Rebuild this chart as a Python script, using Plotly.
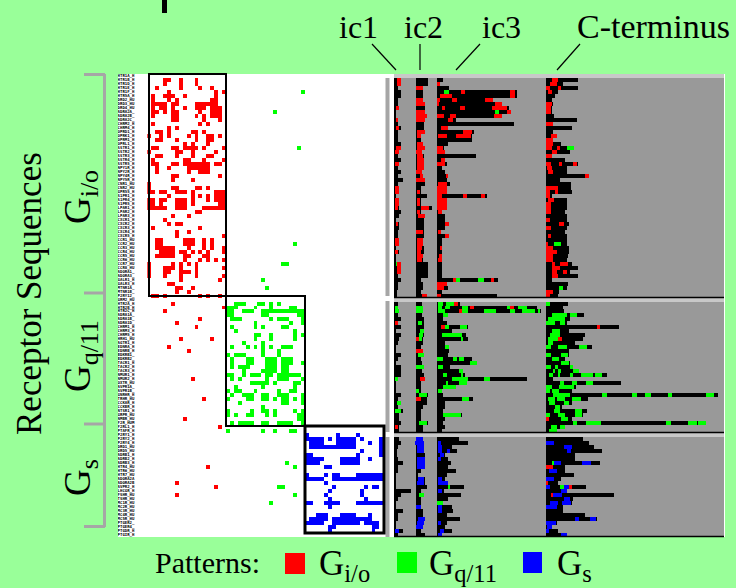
import plotly.graph_objects as go

W, H = 736, 588
N_ROWS = 116

# ---------- left panel: pattern hits, row -> list of (first column, last column)
GIO_ROWS = [
 [], [(4,5),(8,8),(12,12)], [(4,4),(8,8),(12,12)], [(2,2),(8,8),(13,13),(16,16)], [(5,5),(17,17),(19,19)],
 [(1,1),(4,6),(9,9),(17,17)], [(1,1),(5,5),(7,7),(16,17)], [(1,4),(6,7),(12,17)],
 [(1,1),(3,4),(6,6),(9,9),(12,14),(16,18)], [(1,2),(4,4),(6,7),(13,13),(16,18)],
 [(1,1),(6,7),(12,12),(14,14),(16,18)], [(6,7),(14,14),(18,18)], [(1,1),(13,13),(15,15)], [(5,5),(7,7)],
 [(2,3),(5,5),(11,12),(14,14)], [(0,0),(3,3),(5,5),(10,10),(12,12),(15,16),(18,18)],
 [(2,3),(7,7),(12,12),(15,16)], [(9,9),(11,11),(15,15)], [(1,2),(6,7),(9,12),(14,14),(19,19)],
 [(0,0),(7,8),(11,11),(17,17)], [(2,3),(7,7),(11,11),(15,16)], [(1,1),(9,10),(14,14),(19,19)],
 [(1,2),(6,7),(9,15),(17,18)], [(2,2),(5,5),(10,15)], [(2,2),(10,10),(13,15)], [(6,7),(18,18)],
 [(6,6),(11,11)], [(0,0)], [(0,0),(6,7),(12,13),(15,15)], [(0,1),(3,4),(7,9),(11,11),(17,19)],
 [(5,5),(11,11),(13,13),(15,15),(17,19)], [(0,1),(3,4),(7,9),(11,11),(15,15),(17,19)],
 [(0,1),(3,3),(7,9),(11,11),(18,19)], [(0,4),(7,9),(14,19)], [(12,13)], [(6,6),(10,10)], [(4,4)],
 [(5,5),(7,8)], [(1,1),(13,13)], [(7,7),(10,10)], [(7,7),(19,19)], [(2,3),(9,11),(14,14),(16,16)],
 [(2,3),(9,11),(14,14),(16,16)], [(2,6),(10,10),(14,14),(16,16),(19,19)],
 [(3,6),(8,9),(11,11),(13,13),(15,15),(19,19)], [(2,6),(9,10),(14,15)],
 [(9,9),(13,13),(15,15),(17,17),(19,19)], [(0,0),(6,6),(8,8),(10,10),(12,12)],
 [(0,0),(4,6),(8,8),(12,12),(19,19)], [(0,0),(4,5),(8,10),(12,12)], [(0,0),(4,4),(8,8),(12,12),(19,19)],
 [(8,8),(18,18)], [(5,6)], [(7,8),(11,11)], [(7,7),(10,10)], [(1,2),(4,4),(13,13),(15,15),(18,18)],
]
GQ_ROWS = [
 [], [(22,24),(28,29),(31,31),(33,33)], [(20,22),(27,27),(31,31),(36,37)], [(20,21),(24,26),(29,39)],
 [(20,21),(29,30),(38,39)], [(21,23),(31,31),(33,35),(39,39)], [(27,27),(36,36),(39,39)],
 [(21,21),(27,27),(29,29),(34,35)], [(22,22),(37,37)], [(27,28),(31,31),(37,37),(39,39)],
 [(27,27),(31,31),(37,37)], [(24,24),(29,29)], [(21,21),(25,25),(27,27),(29,29),(31,31),(34,36)],
 [(29,29),(33,33)], [(20,20),(22,24),(29,29),(33,33)], [(21,21),(25,26),(30,32),(34,36)],
 [(21,21),(25,26),(30,32),(34,36),(39,39)], [(21,21),(23,25),(30,32),(34,35)],
 [(24,24),(29,32),(34,35)], [(20,21),(24,24),(26,28),(30,31),(33,38)],
 [(21,21),(23,23),(30,30),(33,35),(39,39)], [(26,29),(30,30),(32,32),(37,38)],
 [(22,22),(29,29),(37,37)], [(20,20),(22,23),(27,27),(33,33),(36,37)],
 [(21,21),(24,26),(29,30),(33,35),(39,39)],
 [(20,20),(25,26),(29,30),(32,32),(34,35),(37,37),(39,39)], [(23,23),(34,35),(39,39)], [(29,29)],
 [(20,20),(26,26),(29,30),(32,32),(37,37),(39,39)], [(20,20),(22,22),(25,26),(30,30),(32,32),(38,39)],
 [(38,39)], [(21,21),(23,26),(29,30),(33,36),(39,39)], [], [(20,20),(29,29),(32,32),(36,37)],
]
GS_ROWS = [
 [], [(40,40),(48,48),(53,53)], [(40,44),(46,46),(48,52),(54,54),(59,59)],
 [(41,44),(48,52),(56,56),(59,59)], [(41,44),(45,52),(59,59)], [(54,54),(59,59)],
 [(40,41),(53,53),(59,59)], [(40,44),(49,53),(56,56)], [(40,43),(49,53)], [(45,46)], [],
 [(40,40),(45,45),(47,48),(53,59)], [(40,44),(47,59)], [(45,45)], [(47,47),(55,55),(57,58)],
 [(46,46),(54,54)], [(45,45),(54,54)], [(46,46),(55,55)], [(40,41),(45,48),(53,59)], [(46,46)], [],
 [(43,45),(49,52),(56,56)], [(41,45),(47,56)], [(40,44),(47,53),(55,58)], [(46,47),(57,58)],
 [(46,46),(57,57)],
]
GIO_FIRST_ROW, GQ_FIRST_ROW, GS_FIRST_ROW = 0, 56, 90
# cross-coupled single hits: (row, first column, last column)
EXTRA_RED = [(57,6,6),(58,19,19),(59,4,4),(61,13,13),(62,7,7),(63,12,12),(66,8,8),(66,16,16),(68,5,5),
             (69,10,10),(76,11,11),(81,14,14),(86,9,9),(88,18,18),(98,15,15),(102,7,7),(103,17,17),(105,7,7)]
EXTRA_GREEN = [(4,39,39),(9,32,32),(18,38,38),(42,37,37),(47,34,35),(51,29,29),(53,30,30),
               (97,35,35),(98,37,37),(103,33,34),(105,37,37),(107,31,31)]

RECEPTORS = """HTR1A HTR1B HTR1D HTR1E HTR1F HTR5A DRD2 DRD3 DRD4 ADRA2A ADRA2B ADRA2C CHRM2 CHRM4 OPRD1 OPRK1
OPRM1 OPRL1 SSTR1 SSTR2 SSTR3 SSTR4 SSTR5 NPY1R NPY2R NPY4R NPY5R CNR1 CNR2 GPR55 S1PR1 S1PR4 S1PR5
LPAR1 LPAR2 LPAR3 CXCR1 CXCR2 CXCR3 CXCR4 CXCR5 CCR1 CCR2 CCR3 CCR4 CCR5 CCR6 CCR7 CCR8 ADORA1 ADORA3
GALR1 GALR3 MTNR1A MTNR1B P2RY12 GRM2
HTR2A HTR2B HTR2C ADRA1A ADRA1B ADRA1D CHRM1 CHRM3 CHRM5 HRH1 AGTR1 EDNRA EDNRB BDKRB1 BDKRB2 TACR1
TACR2 TACR3 NMUR1 NMUR2 OXTR AVPR1A AVPR1B GNRHR TRHR CCKAR CCKBR NTSR1 GRPR NMBR F2R F2RL1 PTAFR
P2RY1 P2RY2 P2RY4
DRD1 DRD5 ADRB1 ADRB2 ADRB3 HTR4 HTR6 HTR7 ADORA2A ADORA2B AVPR2 LHCGR FSHR TSHR MC1R MC2R MC3R MC4R
MC5R PTGER2 PTGER4 PTGDR PTGIR HRH2 VIPR1""".split()

# ---------- right panel: where each loop of each row ends, along the alignment
IC1_START, IC2_START, IC3_START, CT_START, ALIGN_END = 27, 93, 155, 483, 1017
IC1_END = [27, 48,40,40,48,48,40,40,40,33,33, 40,40,48,40,40,40,48,48,42,40, 48,42,40,48,40,55,40,42,42,33,
           42,42,42,48,42,33,42,42,40,40, 42,42,33,42,33,33,48,48,48,40, 48,40,40,36,36, 27,
           40,40,42,40,48,40,48,33,48,42, 40,33,33,48,40,33,48,48,48,40, 33,33,33,48,40,48,40,55,42,42,
           48,42,42, 27, 42,48,40,36,36,40,55,40,40,33, 33,33,33,78,48,40,33,33,55,40, 40,33,33,55,40]
IC2_END = [93, 128,128,115,115,115,115,120,120,120,125, 120,118,118,120,107,107,115,120,110,118,
           118,118,118,110,115,120,120,108,108,125, 108,108,140,108,120,118,118,118,118,118,
           115,115,118,118,115,115,128,128,128,128, 108,115,115,108,125, 93,
           110,115,115,110,118,118,118,118,118,115, 115,108,115,118,108,110,118,110,118,120,
           108,108,108,130,125,125,115,108,108,108, 128,115,115, 93,
           115,118,118,118,120,120,120,120,108,100, 120,120,125,108,118,108,108,108,115,115, 120,118,115,108,120]
IC3_END = [155, 173,165,192,395,397,325,352,372,378,350, 213,387,190,266,262,262,190,177,180,272,
           180,185,172,180,188,185,195,185,185,306, 185,185,185,172,180,180,192,180,168,192,
           172,172,172,172,172,172,172,172,172,172, 340,186,190,172,336, 155,
           225,455,468,190,175,187,248,200,243,250, 180,192,192,190,260,275,195,235,240,426,
           245,213,172,175,265,180,180,175,230,180, 175,180,172, 155,
           222,250,200,215,180,190,198,190,212,185, 180,188,237,178,228,190,175,200,205,185, 225,185,180,200,172]
CT_END = [483, 578,533,578,520,510,500,505,500,500,508, 576,503,560,505,515,505,527,567,555,502,
          540,578,545,545,613,525,558,558,560,500, 545,545,545,540,545,545,553,545,540,547,
          547,547,553,553,550,545,560,578,555,578, 500,548,545,522,520, 483,
          550,535,537,598,555,545,703,552,600,595, 570,620,552,552,540,555,565,580,665,503,
          707,572,560,1000,610,560,530,607,595,560, 963,540,515, 483,
          595,613,627,650,570,570,645,540,540,566, 527,520,602,545,688,565,560,535,535,600, 637,515,500,518,545]
HEADER_ROWS = [0, 56, 90]

# (row, start, end) of the coloured matches
RED_SEGS = [(1,36,48),(2,36,48),(3,93,113),(6,93,113),(7,93,120),(8,33,42),(9,93,120),(10,93,125),(11,33,40),(11,93,120),
 (13,33,42),(14,96,120),(15,96,107),(17,96,115),(18,33,48),(18,96,120),(19,30,42),(19,93,110),(20,96,115),(21,96,118),
 (22,30,42),(22,96,118),(23,96,118),(24,93,110),(25,105,115),(26,93,120),(28,30,42),(29,30,42),(29,96,106),(31,30,42),
 (31,96,106),(32,30,42),(32,96,106),(33,30,40),(33,108,132),(34,96,104),(35,100,120),(37,33,40),(39,93,113),(41,30,42),
 (41,96,115),(42,30,42),(42,96,115),(43,96,110),(44,30,40),(44,96,108),(45,96,115),(46,96,110),(47,36,48),(48,36,48),
 (49,36,48),(55,110,125),
 (2,155,165),(4,228,240),(4,376,391),(5,165,200),(5,376,391),(6,155,165),(6,200,215),(6,301,325),(7,155,162),(7,330,352),
 (8,170,180),(8,225,240),(8,322,366),(9,365,378),(10,155,177),(10,195,213),(10,327,350),(11,190,205),(13,167,190),
 (14,235,262),(15,158,185),(15,213,258),(18,155,175),(19,155,180),(21,168,180),(22,155,180),(25,183,188),(27,160,185),
 (28,155,185),(29,155,185),(30,155,172),(30,234,246),(30,288,300),(31,155,185),(32,155,185),(33,155,185),(34,158,170),
 (37,180,192),(39,160,168),(40,180,192),(43,165,172),(45,163,172),(46,160,172),(51,205,212),(51,318,328),(52,155,186),
 (53,155,178),(55,155,167),
 (1,500,520),(2,495,515),(3,483,495),(3,518,527),(4,490,500),(7,483,500),(8,483,498),(9,483,498),(12,483,503),(15,497,515),
 (16,483,505),(17,483,505),(18,483,500),(18,516,525),(19,500,515),(20,483,502),(22,483,497),(22,522,532),(22,563,575),
 (23,485,500),(24,490,505),(25,601,613),(28,483,520),(29,483,495),(29,510,520),(30,483,495),(31,490,508),(32,483,498),
 (33,483,498),(34,483,498),(36,483,495),(37,521,538),(38,483,498),(40,489,498),(42,483,490),(43,483,505),(44,483,515),
 (45,483,505),(46,483,505),(47,500,510),(47,525,550),(48,500,525),(49,500,515),(49,533,547),(50,500,520),(54,483,505),
 (55,483,495),
 (62,30,40),(66,93,103),(69,93,113),(76,106,120),(81,93,108),(88,30,40),(57,208,220),(58,256,266),(58,375,388),(59,221,232),
 (63,167,180),(63,636,646),(66,518,530),(86,483,492),(98,483,505),(102,483,490),(103,553,560),(105,498,505)]
GREEN_SEGS = [(47,33,36),(4,177,192),(9,330,342),(51,212,224),(51,279,298),(18,545,567),(42,508,528),(53,521,534),
 (58,30,40),(59,30,42),(76,30,40),(82,37,48),(84,30,48),
 (58,93,113),(59,93,113),(62,99,110),(64,105,118),(65,103,115),(66,103,110),(70,100,118),(73,93,118),(79,93,103),(80,103,125),
 (87,103,126),(105,103,116),
 (57,158,175),(57,183,208),(58,158,172),(58,180,195),(58,232,250),(58,365,375),(58,400,425),(59,158,180),(59,232,250),
 (59,298,333),(59,375,390),(59,410,450),(59,458,465),(60,173,190),(63,180,192),(63,225,245),(65,170,232),(66,228,235),
 (68,180,192),(71,155,175),(71,203,215),(71,222,238),(72,256,275),(73,160,175),(74,222,235),(75,173,187),(75,228,235),
 (76,202,250),(76,298,315),(77,185,190),(77,222,245),(78,175,212),(79,160,170),(81,232,252),(85,174,228),(103,190,194),
 (107,155,173),
 (57,483,496),(60,500,545),(60,555,575),(61,488,540),(62,483,510),(62,525,540),(64,500,525),(65,495,525),(66,490,518),
 (67,488,505),(68,483,497),(68,520,545),(68,582,607),(70,483,498),(70,528,548),(71,500,522),(72,528,552),(73,483,498),
 (73,510,520),(73,555,565),(74,503,510),(74,520,527),(74,565,583),(75,492,503),(75,520,525),(75,555,565),(75,588,625),
 (75,630,650),(77,525,537),(77,560,575),(77,602,625),(78,483,500),(78,522,568),(79,483,495),(79,500,523),(80,505,555),
 (80,650,665),(80,742,755),(80,780,797),(80,848,860),(80,962,988),(81,490,510),(81,515,540),(81,560,588),(82,492,510),
 (82,538,553),(83,510,525),(84,508,525),(84,570,590),(85,483,496),(85,520,540),(85,570,592),(86,528,550),(87,565,575),
 (87,603,647),(87,842,857),(87,908,935),(87,940,963),(88,497,515),(88,525,540),(89,492,515),(97,502,507),(103,525,537)]
BLUE_SEGS = [(91,93,115),(92,90,118),(93,97,116),(94,97,116),(96,95,120),(97,95,120),(98,95,120),(101,100,118),(102,97,118),
 (108,93,108),(111,100,120),(112,97,118),(113,93,113),(114,30,42),
 (92,158,168),(93,158,170),(94,158,172),(94,185,195),(95,165,178),(96,158,168),(101,158,170),(102,158,188),(104,158,172),
 (108,158,172),(109,158,172),(112,158,168),(114,165,178),(115,158,172),
 (92,483,506),(93,537,560),(94,545,557),(97,507,528),(97,592,617),(99,492,515),(101,483,507),(103,483,495),(103,537,553),
 (104,528,545),(105,505,532),(106,537,555),(107,495,520),(107,530,558),(108,483,515),(111,570,582),(111,615,632),
 (112,483,513),(113,485,500),(114,483,493),(115,528,545)]

BG, RED, GREEN, BLUE, PANEL, BAND, RULE = "#99ff99", "#ff0000", "#00ff00", "#0000ff", "#999999", "#c8c8c8", "#a6a6a6"
SERIF = "Liberation Serif"

# pixel layout helpers
def fx(px): return px / W
def fy(py): return 1 - py / H
COL_ORIGIN, COL_W = 147.3, 3.93
LEFT_PX, GAP_PX, RIGHT_PX, TOP_PX, BOT_PX = 118, 394, 724, 74, 537
def col_of(px): return (px - COL_ORIGIN) / COL_W

# matrix
z = [[None] * 60 for _ in range(N_ROWS)]
def put(first_row, rows, val):
    for i, spans in enumerate(rows):
        for a, b in spans:
            for c in range(a, b + 1):
                z[first_row + i][c] = val
put(GIO_FIRST_ROW, GIO_ROWS, 1)
put(GQ_FIRST_ROW, GQ_ROWS, 2)
put(GS_FIRST_ROW - 1, GS_ROWS, 3)
for r, a, b in EXTRA_RED:
    for c in range(a, b + 1): z[r][c] = 1
for r, a, b in EXTRA_GREEN:
    for c in range(a, b + 1): z[r][c] = 2

fig = go.Figure()
fig.add_trace(go.Heatmap(z=z, x=[c + 0.5 for c in range(60)], y=list(range(N_ROWS)), xaxis="x", yaxis="y",
                         zmin=1, zmax=3, showscale=False, hoverinfo="skip",
                         colorscale=[[0, RED], [0.33, RED], [0.34, GREEN], [0.66, GREEN], [0.67, BLUE], [1, BLUE]]))
labels = ["<b>" + (name + "_HUMAN")[:7] + "</b>" for name in RECEPTORS[:N_ROWS]]
fig.add_trace(go.Scatter(x=[col_of(126)] * N_ROWS, y=list(range(N_ROWS)), mode="text", text=labels,
                         textfont=dict(size=4, color="#000000", family="DejaVu Sans Mono"), xaxis="x", yaxis="y",
                         hoverinfo="skip"))

# right panel bars
def bar(rows, starts, ends, color):
    fig.add_trace(go.Bar(orientation="h", y=rows, base=starts, x=[e - s for s, e in zip(starts, ends)], width=1.0,
                         marker=dict(color=color, line=dict(width=0)), xaxis="x2", yaxis="y2", hoverinfo="skip"))
rows = list(range(N_ROWS))
bar(HEADER_ROWS, [IC1_START] * 3, [ALIGN_END] * 3, BAND)
for start, ends in ((IC1_START, IC1_END), (IC2_START, IC2_END), (IC3_START, IC3_END), (CT_START, CT_END)):
    bar(rows, [start] * N_ROWS, ends, "#000000")
for segs, color in ((RED_SEGS, RED), (GREEN_SEGS, GREEN), (BLUE_SEGS, BLUE)):
    bar([s[0] for s in segs], [s[1] for s in segs], [s[2] for s in segs], color)

shapes = []
def paper_rect(x0, y0, x1, y1, color, layer="below"):
    shapes.append(dict(type="rect", xref="paper", yref="paper", x0=fx(x0), x1=fx(x1), y0=fy(y0), y1=fy(y1),
                       fillcolor=color, line=dict(width=0), layer=layer))
def paper_line(x0, y0, x1, y1, color="#000000", width=1.2):
    shapes.append(dict(type="line", xref="paper", yref="paper", x0=fx(x0), x1=fx(x1), y0=fy(y0), y1=fy(y1),
                       line=dict(color=color, width=width)))
paper_rect(LEFT_PX, TOP_PX, 725, BOT_PX, "#ffffff")
paper_rect(GAP_PX, TOP_PX, RIGHT_PX, BOT_PX, PANEL)
# vertical rule beside the matrix
for a, b in ((78, 296), (301, 432), (437, 537)):
    paper_rect(385.5, a, 389.5, b, RULE)
# pattern boxes
for x0, y0, x1, y1, w in ((149, 74, 226, 296, 2), (226, 296, 305, 426, 2), (305, 426, 384, 533, 3)):
    shapes.append(dict(type="rect", xref="paper", yref="paper", x0=fx(x0), x1=fx(x1), y0=fy(y0), y1=fy(y1),
                       line=dict(color="#000000", width=w), layer="above"))
# rules in the right panel
paper_line(394, 297.5, RIGHT_PX, 297.5, width=1.5)
paper_line(394, 432.5, RIGHT_PX, 432.5, width=1.5)
paper_line(394, 536.5, RIGHT_PX, 536.5, width=1.5)
# leader lines
paper_line(372, 44, 396, 70)
paper_line(420, 44, 420, 70)
paper_line(480, 44, 456, 70)
paper_line(580, 44, 557, 70)
# brackets
paper_line(104.5, 74, 104.5, 527, RULE, 3)
for y in (74.5, 293, 424, 526.5):
    paper_line(84, y, 105, y, RULE, 3)
# clipped title stub
paper_rect(162, 0, 167, 13, "#000000", "above")
# legend swatches
paper_rect(285, 553, 305, 574, RED)
paper_rect(397, 552, 417, 573, GREEN)
paper_rect(523, 552, 542, 573, BLUE)

ann = []
def text(t, x, y, size, angle=0):
    ann.append(dict(text=t, x=fx(x), y=fy(y), xref="paper", yref="paper", showarrow=False, textangle=angle,
                    xanchor="center", yanchor="middle", font=dict(family=SERIF, size=size, color="#000000")))
text("ic1", 358, 27, 32)
text("ic2", 423, 27, 32)
text("ic3", 501, 27, 32)
text("C-terminus", 653, 27, 34)
text("Receptor Sequences", 29, 294, 35, -90)
text("G<sub>i/o</sub>", 80, 197, 37, -90)
text("G<sub>q/11</sub>", 80, 356, 37, -90)
text("G<sub>s</sub>", 80, 478, 37, -90)
text("Patterns:", 208, 562, 30)
text("G<sub>i/o</sub>", 344, 565, 35)
text("G<sub>q/11</sub>", 463, 565, 35)
text("G<sub>s</sub>", 574, 565, 35)

fig.update_layout(
    width=W, height=H, autosize=False, margin=dict(l=0, r=0, t=0, b=0), showlegend=False,
    paper_bgcolor=BG, plot_bgcolor="rgba(0,0,0,0)", barmode="overlay", bargap=0,
    xaxis=dict(domain=[fx(LEFT_PX), fx(GAP_PX)], range=[col_of(LEFT_PX), col_of(GAP_PX)], visible=False, anchor="y"),
    yaxis=dict(domain=[fy(BOT_PX), fy(TOP_PX)], range=[N_ROWS - 0.5, -0.5], visible=False, anchor="x"),
    xaxis2=dict(domain=[fx(GAP_PX), fx(RIGHT_PX)], range=[IC1_START, ALIGN_END], visible=False, anchor="y2"),
    yaxis2=dict(domain=[fy(BOT_PX), fy(TOP_PX)], range=[N_ROWS - 0.5, -0.5], visible=False, anchor="x2"),
    shapes=shapes, annotations=ann,
)
fig.write_html("out.html", config={"displayModeBar": False},
               post_script="document.documentElement.style.margin='0';document.body.style.margin='0';document.body.style.background='#99ff99';")
